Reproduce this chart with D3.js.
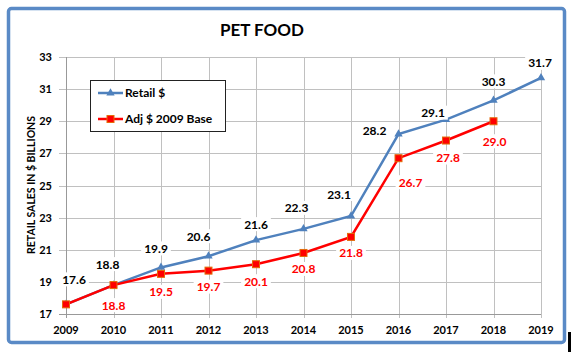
<!DOCTYPE html>
<html><head><meta charset="utf-8">
<script src="https://cdn.jsdelivr.net/npm/d3@7"></script>
<style>body{margin:0;background:#fff}svg{display:block}text{font-family:Lato,"Open Sans",sans-serif;font-weight:bold}</style>
</head><body><svg id="c" width="574" height="359"></svg>
<script>
const years = [2009,2010,2011,2012,2013,2014,2015,2016,2017,2018,2019];
const retail = [17.6,18.8,19.9,20.6,21.6,22.3,23.1,28.2,29.1,30.3,31.7];
const adj = [17.6,18.8,19.5,19.7,20.1,20.8,21.8,26.7,27.8,29.0];
const yTicks = [17,19,21,23,25,27,29,31,33];
const title = "PET FOOD";
const yTitle = "RETAIL SALES IN $ BILLIONS";
const seriesNames = ["Retail $","Adj $ 2009 Base"];

// label placement nudges (pixels), style only
const retailLabelDx = [8,-6,-5,-10,0,-7,-12,-24,-13,0,-1];
const retailLabelDy = [-25,-21,-19,-20,-16,-21,-22,-4,-7,-19,-15];
const adjLabelDx = [0,0,0,0,0,0,0,12,2,1];
const adjLabelDy = [0,20,18,16,17,16,16,24,17,20];

const svg = d3.select("#c");
const blue = "#4F81BD", red = "#FF0000", grid = "#C0C0C0";

// outer frame
svg.append("rect").attr("x",8.5).attr("y",8.5).attr("width",556).attr("height",334)
  .attr("rx",3).attr("fill","#fff").attr("stroke","#5A8AC6").attr("stroke-width",3.5);
svg.append("rect").attr("x",568).attr("y",332).attr("width",3).attr("height",20).attr("fill","#000");

const x = d3.scalePoint().domain(years).range([66,541]);
const y = d3.scaleLinear().domain([17,33]).range([314,57]);

const g = svg.append("g");
// gridlines
g.selectAll(".hg").data(yTicks).join("line")
  .attr("x1",59).attr("x2",541).attr("y1",d=>Math.round(y(d))+0.5).attr("y2",d=>Math.round(y(d))+0.5)
  .attr("stroke",grid).attr("stroke-width",1);
g.selectAll(".vg").data(years).join("line")
  .attr("x1",d=>Math.round(x(d))+0.5).attr("x2",d=>Math.round(x(d))+0.5)
  .attr("y1",57).attr("y2",318).attr("stroke",grid).attr("stroke-width",1);
// axes lines
g.append("line").attr("x1",66.5).attr("x2",66.5).attr("y1",57).attr("y2",318).attr("stroke","#999");
g.append("line").attr("x1",59).attr("x2",541).attr("y1",314.5).attr("y2",314.5).attr("stroke","#999");

// tick labels
g.selectAll(".yt").data(yTicks).join("text")
  .attr("x",52).attr("y",d=>y(d)+4).attr("text-anchor","end").attr("font-size",11).attr("fill","#000").text(d=>d);
g.selectAll(".xt").data(years).join("text")
  .attr("x",d=>x(d)).attr("y",334).attr("text-anchor","middle").attr("font-size",11).attr("fill","#000").text(d=>d);

// titles
svg.append("text").attr("x",262).attr("y",36).attr("text-anchor","middle").attr("font-size",17).text(title);
svg.append("text").attr("transform","translate(35,185) rotate(-90)").attr("text-anchor","middle")
  .attr("font-size",10.5).text(yTitle);

// lines
const line = d3.line().x((d,i)=>x(years[i])).y(d=>y(d));
g.append("path").attr("d",line(retail)).attr("fill","none").attr("stroke",blue).attr("stroke-width",2.5);
g.selectAll(".tri").data(retail).join("path")
  .attr("d",d3.symbol().type(d3.symbolTriangle).size(30))
  .attr("transform",(d,i)=>`translate(${x(years[i])},${y(d)})`).attr("fill",blue);
g.append("path").attr("d",line(adj)).attr("fill","none").attr("stroke",red).attr("stroke-width",2.5);
g.selectAll(".sq").data(adj).join("rect")
  .attr("x",(d,i)=>x(years[i])-3.5).attr("y",d=>y(d)-3.5).attr("width",7).attr("height",7)
  .attr("fill",red).attr("stroke","#E46C0A").attr("stroke-width",1);

// data labels
function addLabel(cx, cy, txt, color){
  const t = g.append("text").attr("x",cx).attr("y",cy+4.5).attr("text-anchor","middle")
    .attr("font-size",12).attr("fill",color).text(txt);
  const w = t.node().getComputedTextLength();
  g.insert("rect", () => t.node()).attr("x",cx-w/2-3).attr("y",cy-7).attr("width",w+6).attr("height",14).attr("fill","#fff");
}
retail.forEach((v,i)=>addLabel(x(years[i])+retailLabelDx[i], y(v)+retailLabelDy[i], v.toFixed(1), "#000"));
adj.forEach((v,i)=>{ if(i>0) addLabel(x(years[i])+adjLabelDx[i], y(v)+adjLabelDy[i], v.toFixed(1), red); });

// legend
const lg = svg.append("g");
lg.append("rect").attr("x",90.5).attr("y",80.5).attr("width",135).attr("height",51).attr("fill","#fff").attr("stroke","#222");
lg.append("line").attr("x1",98).attr("x2",123).attr("y1",93).attr("y2",93).attr("stroke",blue).attr("stroke-width",2.5);
lg.append("path").attr("d",d3.symbol().type(d3.symbolTriangle).size(30)).attr("transform","translate(110.5,93)").attr("fill",blue);
lg.append("line").attr("x1",98).attr("x2",123).attr("y1",119).attr("y2",119).attr("stroke",red).attr("stroke-width",2.5);
lg.append("rect").attr("x",107).attr("y",115.5).attr("width",7).attr("height",7).attr("fill",red).attr("stroke","#E46C0A");
lg.append("text").attr("x",125).attr("y",97).attr("font-size",12).text(seriesNames[0]);
lg.append("text").attr("x",125).attr("y",123).attr("font-size",12).text(seriesNames[1]);
</script></body></html>
